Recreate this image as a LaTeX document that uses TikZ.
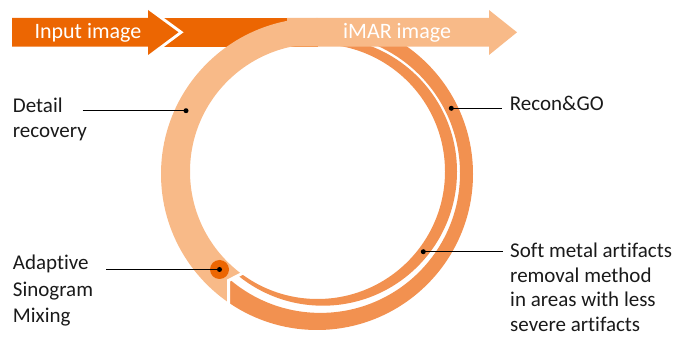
\documentclass[tikz,border=0pt]{standalone}
\usepackage{fontspec}
\setmainfont[Ligatures={NoCommon}]{Carlito}
\definecolor{inorange}{RGB}{236,102,2}
\definecolor{peach}{RGB}{248,186,136}
\definecolor{ringorange}{RGB}{242,145,80}
\definecolor{txt}{RGB}{26,26,26}
\begin{document}
\begin{tikzpicture}[x=1pt,y=1pt,
  lbl/.style={anchor=base west, inner sep=0pt, text=txt},
  leader/.style={line width=1.2pt, black},
  ldot/.style={circle, fill=black, inner sep=0pt, minimum size=5pt},
  bartext/.style={anchor=base west, inner sep=0pt, text=white}]
\useasboundingbox (0,0) rectangle (688,337);
% continuation bar behind the ring
\fill[inorange] (150,290.3) rectangle (317.5,319);
% white outline of the input arrow head
\draw[white, line width=6pt, miter limit=10] (148,327) -- (178.5,304.7) -- (148,282);
% input arrow
\fill[inorange] (12,290.3) -- (148,290.3) -- (148,282) -- (178.5,304.7) -- (148,327) -- (148,319) -- (12,319) -- cycle;
% peach part of the ring
\begin{scope}
\clip (228.5,-10) -- (228.5,56.5) -- (252,68.6) -- (317.5,165.5) -- (317.5,350) -- (-10,350) -- (-10,-10) -- cycle;
\fill[peach, even odd rule] (317,163) circle[radius=156] (317.5,165.5) circle[radius=127.5];
\end{scope}
% darker part of the ring (two bands)
\begin{scope}
\clip (228.5,-10) -- (228.5,56.5) -- (252,68.6) -- (317.5,165.5) -- (317.5,350) -- (700,350) -- (700,-10) -- cycle;
\fill[ringorange, even odd rule] (317,163) circle[radius=156] (320.4,163.7) circle[radius=139.6]
  (322.8,165.5) circle[radius=134.2] (317.5,165.5) circle[radius=127.5];
\end{scope}
% white chevron between the two parts
\draw[white, line width=3pt, miter limit=10] (228.5,25) -- (228.5,56.5) -- (252,68.6);
% iMAR arrow
\fill[peach] (287,290.3) -- (489,290.3) -- (489,282) -- (517,304.7) -- (489,327) -- (489,319) -- (287,319) -- cycle;
% bar texts
\node[bartext, font=\fontsize{22}{26}\selectfont] (inp) at (34.3,298.7) {Input image};
\node[bartext, font=\fontsize{22}{26}\selectfont] (imar) at (343,298.7) {iMAR image};
% Detail recovery
\node[lbl] (detail) at (12.7,224.3) {\parbox[t]{150pt}{\fontsize{21}{25}\selectfont Detail\\recovery}};
\coordinate (detailL) at (82.7,226.3);
\node[ldot] (detailD) at (186,226.3) {};
\draw[leader] (detailL) -- (detailD.center);
% Recon&GO
\node[lbl, font=\fontsize{21}{25}\selectfont] (recon) at (509.7,226.3) {Recon\&GO};
\node[ldot] (reconD) at (451.3,228.7) {};
\coordinate (reconL) at (502.3,228.7);
\draw[leader] (reconD.center) -- (reconL);
% Adaptive Sinogram Mixing
\node[lbl] (asm) at (12.7,67) {\parbox[t]{150pt}{\fontsize{21}{26.5}\selectfont Adaptive\\Sinogram\\Mixing}};
\node[circle, fill=inorange, inner sep=0pt, minimum size=19pt] (asmC) at (219.5,67.5) {};
\coordinate (asmL) at (106,67.5);
\draw[leader] (asmL) -- (asmC.center);
\node[ldot] (asmD) at (asmC.center) {};
% Soft metal artifacts
\node[lbl] (soft) at (510,79.2) {\parbox[t]{180pt}{\fontsize{21}{24.6}\selectfont Soft metal artifacts\\removal method\\in areas with less\\severe artifacts}};
\node[ldot] (softD) at (423.3,85.3) {};
\coordinate (softL) at (503,85.3);
\draw[leader] (softD.center) -- (softL);
\end{tikzpicture}
\end{document}
